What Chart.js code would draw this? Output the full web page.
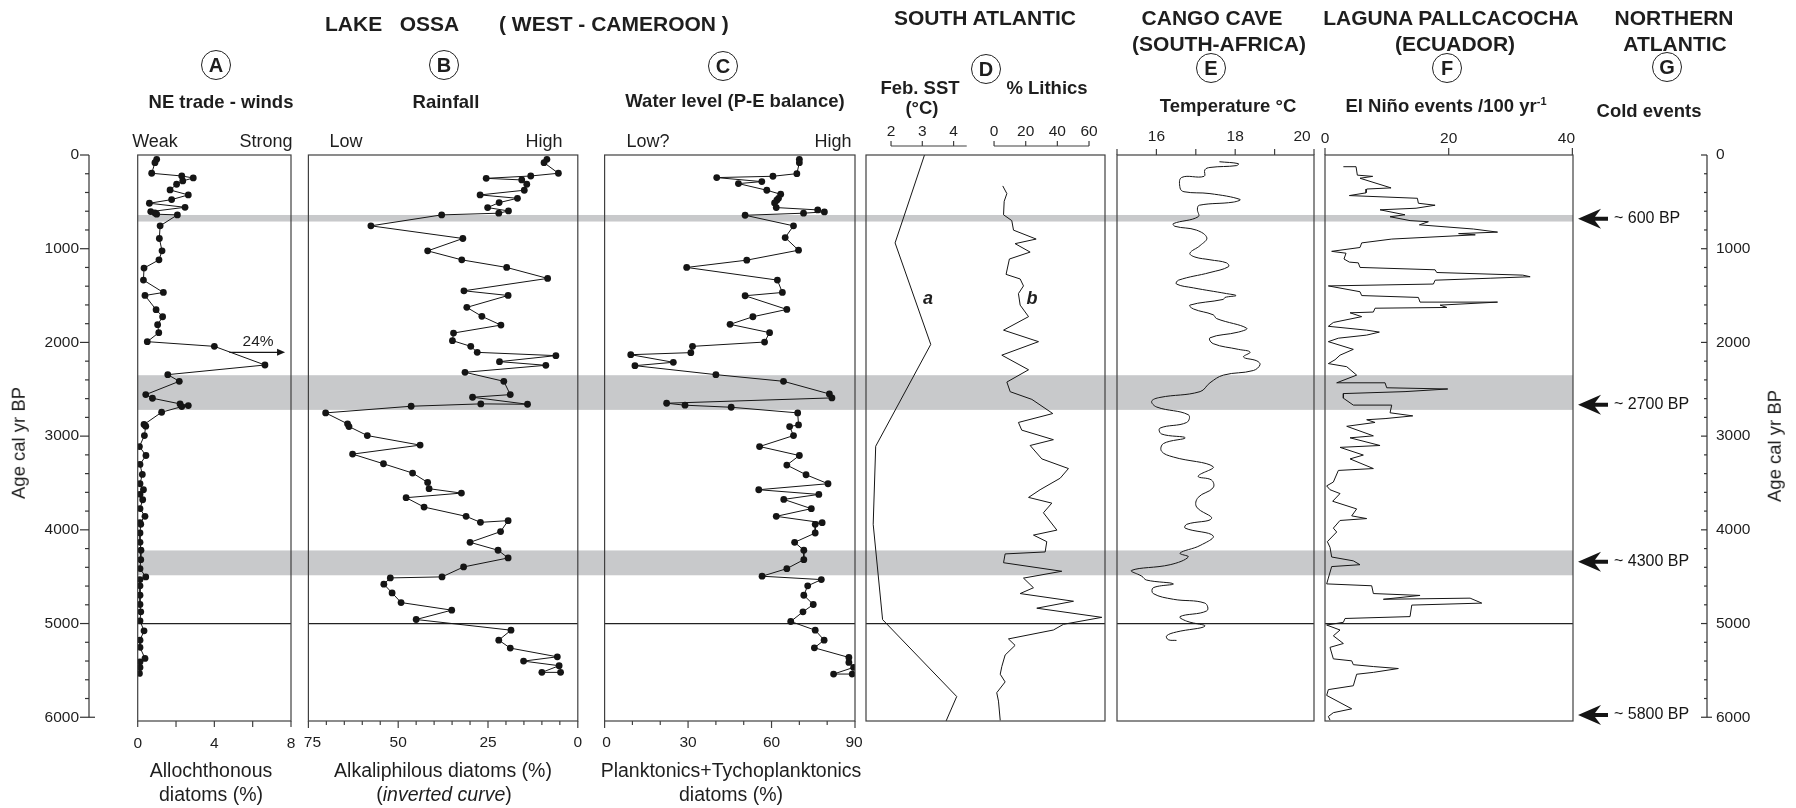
<!DOCTYPE html>
<html>
<head>
<meta charset="utf-8">
<title>Lake Ossa multi-proxy</title>
<script src="https://cdn.jsdelivr.net/npm/chart.js@4.4.1/dist/chart.umd.min.js"></script>
<style>
  body { margin: 0; background: #fff; }
  #wrap { position: relative; width: 1796px; height: 808px; overflow: hidden;
          font-family: "Liberation Sans", Arial, Helvetica, sans-serif; color: #1e1e1e; }
  #wrap canvas { position: absolute; left: 0; top: 0; }
  .t { position: absolute; white-space: pre; line-height: 1; transform: translate(-50%, -50%); }
  .l { transform: translate(0, -50%); }
  .h { font-weight: bold; font-size: 21px; }
  .s { font-weight: bold; font-size: 18.5px; }
  .k { font-size: 18px; }
  .x { font-size: 19.5px; }
  .v { font-size: 18.5px; transform: translate(-50%, -50%) rotate(-90deg); }
  .c { position: absolute; width: 28px; height: 28px; border: 1.3px solid #222; border-radius: 50%;
       transform: translate(-50%, -50%); font-weight: bold; font-size: 20px; line-height: 28px; text-align: center; }
  sup { font-size: 11px; vertical-align: 7px; line-height: 0; }
</style>
</head>
<body>
<div id="wrap">
  <canvas id="cAge" width="1796" height="808"></canvas>
  <canvas id="cA" width="1796" height="808"></canvas>
  <canvas id="cB" width="1796" height="808"></canvas>
  <canvas id="cC" width="1796" height="808"></canvas>
  <canvas id="cD" width="1796" height="808"></canvas>
  <canvas id="cE" width="1796" height="808"></canvas>
  <canvas id="cF" width="1796" height="808"></canvas>

  <div class="t l h" style="left:325px;top:23px">LAKE   OSSA</div>
  <div class="t l h" style="left:499px;top:23px">( WEST - CAMEROON )</div>
  <div class="t h" style="left:985px;top:17px">SOUTH ATLANTIC</div>
  <div class="t h" style="left:1212px;top:17px">CANGO CAVE</div>
  <div class="t h" style="left:1219px;top:43px">(SOUTH-AFRICA)</div>
  <div class="t h" style="left:1451px;top:17px">LAGUNA PALLCACOCHA</div>
  <div class="t h" style="left:1455px;top:43px">(ECUADOR)</div>
  <div class="t h" style="left:1674px;top:17px">NORTHERN</div>
  <div class="t h" style="left:1675px;top:43px">ATLANTIC</div>

  <div class="c" style="left:216px;top:65px">A</div>
  <div class="c" style="left:444px;top:65px">B</div>
  <div class="c" style="left:723px;top:66px">C</div>
  <div class="c" style="left:986px;top:69px">D</div>
  <div class="c" style="left:1211px;top:68px">E</div>
  <div class="c" style="left:1447px;top:68px">F</div>
  <div class="c" style="left:1667px;top:67px">G</div>

  <div class="t s" style="left:221px;top:102px">NE trade - winds</div>
  <div class="t s" style="left:446px;top:102px">Rainfall</div>
  <div class="t s" style="left:735px;top:101px">Water level (P-E balance)</div>
  <div class="t s" style="left:920px;top:88px">Feb. SST</div>
  <div class="t s" style="left:922px;top:108px">(°C)</div>
  <div class="t s" style="left:1047px;top:88px">% Lithics</div>
  <div class="t s" style="left:1228px;top:106px">Temperature °C</div>
  <div class="t s" style="left:1446px;top:106px">El Niño events /100 yr<sup>-1</sup></div>
  <div class="t s" style="left:1649px;top:111px">Cold events</div>

  <div class="t k" style="left:155px;top:141px">Weak</div>
  <div class="t k" style="left:266px;top:141px">Strong</div>
  <div class="t k" style="left:346px;top:141px">Low</div>
  <div class="t k" style="left:544px;top:141px">High</div>
  <div class="t k" style="left:648px;top:141px">Low?</div>
  <div class="t k" style="left:833px;top:141px">High</div>

  <div class="t x" style="left:211px;top:771px">Allochthonous</div>
  <div class="t x" style="left:211px;top:795px">diatoms (%)</div>
  <div class="t x" style="left:443px;top:771px">Alkaliphilous diatoms (%)</div>
  <div class="t x" style="left:444px;top:795px">(<i>inverted curve</i>)</div>
  <div class="t x" style="left:731px;top:771px">Planktonics+Tychoplanktonics</div>
  <div class="t x" style="left:731px;top:795px">diatoms (%)</div>
  <div class="t v" style="left:19px;top:443px">Age cal yr BP</div>
  <div class="t v" style="left:1775px;top:446px">Age cal yr BP</div>
</div>

<script>
const W = 1796, H = 808;
const FONT = '"Liberation Sans", Arial, Helvetica, sans-serif';
const INK = '#1e1e1e';
const FRAME = '#404040';
const BAND = '#c8c9cb';

// ---- age axis (cal yr BP) ----
const ageMax = 6040;
const ageTicks = [0, 200, 400, 600, 800, 1000, 1200, 1400, 1600, 1800, 2000, 2200, 2400, 2600, 2800, 3000,
  3200, 3400, 3600, 3800, 4000, 4200, 4400, 4600, 4800, 5000, 5200, 5400, 5600, 5800, 6000];
const ageLabelValues = [0, 1000, 2000, 3000, 4000, 5000, 6000];
const ageLabels = ['0', '1000', '2000', '3000', '4000', '5000', '6000'];
const bandAges = [[640, 710], [2350, 2720], [4220, 4485]];
const boundaryAge = 5000;
const coldEventAges = [680, 2665, 4340, 5975];
const coldEventLabels = ['~ 600 BP', '~ 2700 BP', '~ 4300 BP', '~ 5800 BP'];

// ---- A: allochthonous diatoms (%) ----
const ageA = [46, 82, 195, 224, 245, 277, 312, 373, 426, 476, 515, 558, 604, 618, 632, 639, 756, 891, 1023, 1119,
  1207, 1335, 1467, 1499, 1651, 1726, 1811, 1896, 1992, 2042, 2241, 2344, 2415, 2557, 2596, 2656, 2674, 2685, 2745, 2876,
  2894, 2994, 3111, 3207, 3302, 3409, 3508, 3572, 3622, 3679, 3774, 3856, 3924, 3941, 4034, 4133, 4218, 4318, 4414, 4502,
  4531, 4598, 4698, 4797, 4875, 4971, 5078, 5177, 5255, 5372, 5408, 5468, 5532];
const valA = [0.99, 0.90, 0.73, 2.30, 2.90, 2.35, 2.03, 1.69, 2.64, 1.77, 0.61, 2.47, 0.68, 0.90, 0.99, 2.07, 1.17, 1.13, 1.27, 1.11,
  0.33, 0.30, 1.34, 0.38, 0.96, 1.30, 1.04, 1.10, 0.50, 4.00, 6.64, 1.57, 2.17, 0.42, 0.77, 2.21, 2.64, 2.30, 1.25, 0.33,
  0.42, 0.35, 0.09, 0.43, 0.12, 0.24, 0.12, 0.30, 0.12, 0.26, 0.12, 0.38, 0.12, 0.16, 0.12, 0.12, 0.17, 0.16, 0.12, 0.42,
  0.12, 0.12, 0.12, 0.12, 0.16, 0.12, 0.33, 0.12, 0.12, 0.38, 0.12, 0.12, 0.09];
const ticksA = [0, 2, 4, 6, 8];
const labelValuesA = [0, 4, 8];
const labelsA = ['0', '4', '8'];
const note24 = { text: '24%', textAt: 6.28, textAge: 1992, arrowFrom: 4.78, arrowTo: 7.69, arrowAge: 2106 };

// ---- B: alkaliphilous diatoms (%), inverted ----
const ageB = [46, 82, 195, 224, 249, 266, 312, 376, 426, 462, 508, 561, 597, 621, 639, 756, 891, 1023, 1119, 1200,
  1317, 1449, 1499, 1626, 1722, 1815, 1900, 1981, 2042, 2106, 2141, 2205, 2244, 2319, 2415, 2557, 2585, 2660, 2656, 2681,
  2752, 2869, 2898, 2994, 3096, 3192, 3295, 3394, 3494, 3561, 3608, 3657, 3757, 3856, 3920, 3902, 4019, 4133, 4218, 4300,
  4396, 4502, 4513, 4580, 4673, 4776, 4857, 4957, 5071, 5177, 5262, 5355, 5401, 5450, 5521, 5521];
const valB = [8.6, 9.4, 5.4, 13.1, 25.5, 15.6, 14.2, 14.9, 27.2, 16.8, 21.9, 25.1, 19.3, 22.0, 37.9, 57.6, 32.0, 41.8, 32.3, 19.8,
  8.4, 31.7, 19.4, 30.9, 26.7, 21.4, 34.6, 34.9, 29.8, 28.0, 6.1, 21.8, 8.9, 31.4, 20.6, 18.8, 29.3, 14.0, 27.0, 46.4,
  70.2, 64.1, 63.7, 58.6, 43.9, 62.7, 54.1, 46.0, 41.8, 41.4, 32.4, 47.8, 42.8, 31.1, 27.1, 19.4, 21.5, 30.0, 22.2, 19.4,
  31.8, 37.8, 52.2, 54.0, 51.7, 49.2, 35.1, 45.0, 18.6, 22.0, 18.8, 5.7, 15.1, 5.2, 10.0, 4.8];
const ticksB = [0, 5, 10, 15, 20, 25, 30, 35, 40, 45, 50, 55, 60, 65, 70, 75];
const majorB = [0, 25, 50, 75];
const labelValuesB = [75, 50, 25, 0];
const labelsB = ['75', '50', '25', '0'];

// ---- C: planktonics + tychoplanktonics (%) ----
const ageC = [46, 82, 199, 227, 241, 284, 305, 376, 419, 462, 483, 511, 561, 586, 607, 621, 643, 756, 881, 1016,
  1122, 1200, 1335, 1467, 1502, 1648, 1726, 1807, 1896, 1996, 2042, 2109, 2131, 2212, 2248, 2344, 2415, 2550, 2592, 2649,
  2670, 2692, 2752, 2880, 2898, 2994, 3111, 3207, 3309, 3412, 3508, 3572, 3622, 3675, 3774, 3856, 3924, 3941, 4034, 4133,
  4218, 4318, 4414, 4495, 4531, 4598, 4698, 4797, 4875, 4978, 5071, 5177, 5259, 5362, 5415, 5468, 5539, 5539];
const valC = [70.0, 70.0, 69.1, 60.5, 40.3, 56.5, 48.1, 58.3, 63.3, 62.5, 61.9, 61.1, 61.7, 76.6, 79.0, 71.5, 50.5, 67.9, 64.9, 69.7,
  51.1, 29.5, 62.1, 63.9, 50.5, 65.5, 53.3, 45.1, 59.3, 57.5, 31.6, 31.0, 9.4, 24.7, 10.9, 40.0, 64.3, 80.8, 81.7, 22.3,
  28.9, 45.5, 69.4, 69.7, 66.5, 67.9, 55.7, 70.0, 65.5, 72.4, 80.3, 55.4, 77.0, 64.4, 74.3, 61.7, 78.2, 75.7, 75.7, 68.3,
  71.6, 71.6, 65.5, 56.6, 77.9, 73.0, 71.6, 75.0, 71.3, 66.9, 75.7, 78.9, 75.4, 87.8, 87.8, 89.5, 82.3, 89.0];
const ticksC = [0, 10, 20, 30, 40, 50, 60, 70, 80, 90];
const majorC = [0, 30, 60, 90];
const labelValuesC = [0, 30, 60, 90];
const labelsC = ['0', '30', '60', '90'];

// ---- D: South Atlantic, (a) Feb. SST and (b) % lithics ----
const ageSST = [0, 938, 2021, 3108, 3941, 4958, 5779, 6040];
const valSST = [3.07, 2.13, 3.27, 1.51, 1.43, 1.73, 4.10, 3.76];
const ageLith = [330, 412, 494, 638, 700, 802, 897, 946, 1036, 1110, 1274, 1323, 1397, 1479, 1602, 1725, 1869, 1992, 2136, 2292,
  2423, 2526, 2608, 2759, 2854, 2936, 3038, 3100, 3243, 3346, 3449, 3572, 3654, 3715, 3818, 4003, 4056, 4126, 4236, 4257,
  4351, 4442, 4515, 4618, 4680, 4762, 4836, 4934, 5008, 5069, 5164, 5233, 5336, 5459, 5541, 5623, 5738, 5828, 6034];
const valLith = [5.5, 8.1, 6.4, 6.0, 11.2, 12.3, 26.6, 13.3, 22.8, 9.7, 7.6, 16.5, 18.6, 15.4, 16.5, 21.8, 6.0, 28.1, 4.9, 21.8,
  8.1, 10.2, 23.9, 37.1, 15.4, 17.5, 37.5, 22.8, 30.2, 47.0, 41.8, 29.1, 21.8, 36.5, 31.2, 39.7, 24.9, 33.3, 32.3, 7.0,
  6.0, 42.8, 18.6, 24.9, 16.5, 50.2, 27.0, 68.1, 43.9, 37.5, 9.1, 13.3, 7.0, 4.9, 3.9, 7.0, 1.7, 2.8, 3.9];
const ticksSST = [2, 3, 4];
const labelsSST = ['2', '3', '4'];
const ticksLith = [0, 20, 40, 60];
const labelsLith = ['0', '20', '40', '60'];
const curveNames = [{ text: 'a', scale: 'x', at: 3.18, age: 1541 }, { text: 'b', scale: 'x2', at: 24.0, age: 1541 }];

// ---- E: Cango Cave temperature (°C) ----
const ageE = [72, 92, 113, 133, 158, 228, 240, 351, 392, 412, 474, 503, 536, 577, 659, 732, 761, 802, 884, 966,
  1048, 1089, 1118, 1151, 1192, 1254, 1336, 1377, 1418, 1479, 1500, 1520, 1541, 1602, 1643, 1705, 1746, 1848, 1890, 1951,
  2013, 2074, 2103, 2156, 2197, 2238, 2300, 2349, 2431, 2525, 2587, 2628, 2690, 2772, 2854, 2915, 2977, 3018, 3079, 3161,
  3223, 3326, 3428, 3469, 3551, 3654, 3756, 3879, 3941, 3982, 4064, 4167, 4249, 4290, 4372, 4433, 4495, 4536, 4577, 4618,
  4680, 4741, 4782, 4864, 4926, 4975, 5028, 5090, 5131, 5172, 5180];
const valE = [17.60, 18.08, 18.04, 17.36, 17.23, 17.21, 16.64, 16.60, 16.70, 17.36, 18.12, 17.95, 17.09, 17.04, 17.06, 16.43, 16.47, 17.02, 17.28, 17.11,
  16.85, 16.98, 17.36, 17.78, 17.83, 17.36, 16.56, 16.51, 16.94, 17.78, 18.02, 17.74, 17.70, 16.85, 16.94, 17.44, 17.53, 18.29, 18.08, 17.36,
  17.44, 18.08, 18.38, 18.21, 18.55, 18.63, 18.46, 17.70, 17.36, 17.11, 16.09, 15.88, 16.01, 16.81, 16.77, 16.09, 16.13, 16.73, 16.18, 16.13,
  16.43, 17.44, 17.06, 17.40, 17.44, 17.06, 17.02, 17.40, 16.77, 16.73, 17.44, 17.11, 16.60, 16.81, 16.35, 15.37, 15.63, 15.75, 16.43, 15.92,
  15.92, 16.43, 17.23, 17.28, 16.60, 16.77, 17.23, 16.51, 16.26, 16.30, 16.51];
const ticksE = [15, 16, 17, 18, 19, 20];
const labelValuesE = [16, 18, 20];
const labelsE = ['16', '18', '20'];

// ---- F: Laguna Pallcacocha El Niño events /100 yr ----
const ageF = [125, 125, 215, 228, 248, 351, 363, 404, 433, 462, 515, 536, 568, 585, 638, 659, 700, 712, 745, 790,
  823, 839, 852, 897, 938, 987, 1028, 1048, 1110, 1143, 1151, 1200, 1225, 1254, 1282, 1299, 1315, 1336, 1377, 1397,
  1459, 1500, 1520, 1570, 1570, 1602, 1627, 1635, 1676, 1684, 1725, 1787, 1828, 1869, 1890, 1922, 1955, 1992, 2074, 2136,
  2185, 2226, 2259, 2349, 2431, 2431, 2484, 2497, 2525, 2546, 2595, 2669, 2669, 2751, 2784, 2813, 2825, 2854, 2895, 2997,
  3018, 3100, 3120, 3202, 3243, 3346, 3366, 3490, 3531, 3572, 3613, 3695, 3777, 3851, 3880, 3900, 3982, 4023, 4126, 4187,
  4290, 4331, 4372, 4392, 4515, 4577, 4597, 4680, 4700, 4741, 4729, 4782, 4803, 4926, 4946, 4987, 5016, 5069, 5131, 5213,
  5254, 5377, 5398, 5439, 5459, 5480, 5521, 5541, 5664, 5705, 5767, 5910, 5951, 5992, 6030];
const valF = [2.97, 5.02, 5.23, 7.71, 5.66, 10.68, 6.74, 6.63, 3.94, 14.94, 15.10, 17.80, 14.72, 8.90, 12.94, 10.52, 13.75, 16.72, 15.26, 24.0,
  27.9, 21.6, 24.3, 10.8, 5.93, 5.66, 1.08, 3.40, 3.07, 3.94, 5.39, 5.66, 17.80, 18.07, 31.98, 33.17, 26.70, 17.80, 17.53, 0.54,
  5.66, 5.93, 15.10, 15.37, 27.9, 18.61, 19.69, 8.09, 7.82, 4.05, 5.93, 1.35, 0.54, 6.74, 8.79, 6.74, 2.16, 0.54, 4.58, 2.43,
  1.62, 0.54, 3.51, 5.12, 1.89, 9.71, 9.98, 19.85, 12.94, 2.97, 2.97, 4.58, 10.79, 10.52, 14.19, 9.71, 6.74, 8.09, 3.51, 7.82,
  4.05, 8.90, 2.43, 6.20, 4.05, 7.82, 2.16, 1.35, 0.27, 0.81, 2.43, 1.24, 5.12, 4.32, 6.74, 2.43, 1.35, 1.89, 0.38, 0.81,
  1.08, 4.58, 5.66, 1.08, 0.54, 0.27, 7.55, 7.82, 15.37, 9.44, 23.46, 25.35, 14.03, 13.75, 3.24, 2.97, 0.27, 2.43, 1.35, 2.97,
  0.81, 1.35, 4.32, 4.58, 7.82, 11.86, 7.82, 5.12, 4.58, 0.54, 0.27, 4.32, 1.35, 0.54, 0.81];
const ticksF = [0, 20, 40];
const labelsF = ['0', '20', '40'];

// ---- layout (pixel boxes of the panels) ----
const plotTop = 155, plotBottom = 721;
const areas = {
  age: [89, 1707], A: [137.7, 291], B: [308.4, 577.8], C: [604.6, 855],
  D: [866, 1105], E: [1117, 1314], F: [1325, 1573]
};

function seg(ctx, x0, y0, x1, y1) {
  ctx.beginPath(); ctx.moveTo(x0, y0); ctx.lineTo(x1, y1); ctx.stroke();
}

function pts(ages, vals) {
  return ages.map((a, i) => ({ x: vals[i], y: a }));
}

function dotted(ages, vals) {
  return { data: pts(ages, vals), showLine: true, borderColor: '#151515', borderWidth: 1,
    pointRadius: 3.4, pointBackgroundColor: '#151515', pointBorderWidth: 0, pointHoverRadius: 0 };
}

function curve(ages, vals, extra) {
  return Object.assign({ data: pts(ages, vals), showLine: true, borderColor: '#151515', borderWidth: 1,
    pointRadius: 0, pointHoverRadius: 0 }, extra || {});
}

function makeChart(id, area, scales, datasets, plugins) {
  return new Chart(document.getElementById(id), {
    type: 'scatter',
    data: { datasets },
    options: {
      responsive: false, animation: false, devicePixelRatio: 1, events: [],
      layout: { padding: { left: area[0], right: W - area[1], top: plotTop, bottom: H - plotBottom } },
      scales: Object.assign({ y: { type: 'linear', display: false, reverse: true, min: 0, max: ageMax } }, scales),
      plugins: { legend: { display: false }, tooltip: { enabled: false } }
    },
    plugins: plugins
  });
}

// frame, 5000 yr line and tick axes of one panel
function panelPlugin(cfg) {
  return {
    id: 'panel',
    beforeDatasetsDraw(chart) {
      const { ctx, chartArea: a, scales: { y } } = chart;
      const yb = y.getPixelForValue(boundaryAge);
      ctx.save(); ctx.strokeStyle = '#222'; ctx.lineWidth = 1.2;
      seg(ctx, a.left, yb, a.right, yb);
      ctx.restore();
    },
    afterDraw(chart) {
      const { ctx, chartArea: a } = chart;
      ctx.save();
      ctx.strokeStyle = FRAME; ctx.lineWidth = 1.2;
      ctx.strokeRect(a.left, a.top, a.right - a.left, a.bottom - a.top);
      ctx.fillStyle = INK; ctx.textAlign = 'center'; ctx.textBaseline = 'middle';
      ctx.font = '15.5px ' + FONT;
      cfg.axes.forEach(ax => {
        const s = chart.scales[ax.scale];
        const base = ax.base !== undefined ? ax.base : (ax.dir > 0 ? a.bottom : a.top);
        if (ax.bar) seg(ctx, s.getPixelForValue(ax.bar[0]), base, s.getPixelForValue(ax.bar[1]), base);
        ax.ticks.forEach(v => {
          const x = s.getPixelForValue(v);
          const len = ax.major && !ax.major.includes(v) ? ax.minorLen : ax.len;
          seg(ctx, x, base, x, base + ax.dir * len);
        });
        ax.labelValues.forEach((v, i) => {
          ctx.fillText(ax.labels[i], s.getPixelForValue(v) + (ax.dx ? ax.dx[i] : 0), ax.labelY);
        });
      });
      if (cfg.after) cfg.after(chart);
      ctx.restore();
    }
  };
}

// background: grey bands, both age axes, cold-event arrows
const agePlugin = {
  id: 'ageAxes',
  beforeDraw(chart) {
    const { ctx, scales: { y } } = chart;
    ctx.save();
    ctx.fillStyle = BAND;
    bandAges.forEach(([from, to]) => {
      const y0 = y.getPixelForValue(from), y1 = y.getPixelForValue(to);
      ctx.fillRect(areas.A[0], y0, areas.F[1] - areas.A[0], y1 - y0);
    });
    ctx.restore();
  },
  afterDraw(chart) {
    const { ctx, chartArea: a, scales: { y } } = chart;
    ctx.save();
    ctx.strokeStyle = '#333'; ctx.lineWidth = 1.2;
    ctx.fillStyle = INK; ctx.textBaseline = 'middle'; ctx.font = '15.5px ' + FONT;
    const yTop = y.getPixelForValue(ageTicks[0]);
    const yEnd = y.getPixelForValue(ageTicks[ageTicks.length - 1]);
    // left axis
    seg(ctx, a.left, yTop, a.left, yEnd);
    ageTicks.forEach(v => {
      const yy = y.getPixelForValue(v);
      const major = ageLabelValues.includes(v);
      seg(ctx, a.left - (major ? 9 : 4), yy, a.left + (v === 6000 ? 6 : 0), yy);
    });
    ctx.textAlign = 'right';
    ageLabelValues.forEach((v, i) => ctx.fillText(ageLabels[i], a.left - 10, y.getPixelForValue(v)));
    // right axis
    seg(ctx, a.right, yTop, a.right, yEnd);
    ageTicks.forEach(v => {
      const yy = y.getPixelForValue(v);
      const major = ageLabelValues.includes(v);
      seg(ctx, a.right - (major ? 6 : 3), yy, a.right + (v === 6000 ? 5 : 0), yy);
    });
    ctx.textAlign = 'left';
    ageLabelValues.forEach((v, i) => ctx.fillText(ageLabels[i], a.right + 9, y.getPixelForValue(v)));
    // cold events
    ctx.fillStyle = '#151515'; ctx.font = '16px ' + FONT;
    coldEventAges.forEach((age, i) => {
      const yy = y.getPixelForValue(age);
      const tip = areas.F[1] + 5;
      ctx.beginPath();
      ctx.moveTo(tip, yy);
      ctx.lineTo(tip + 23, yy - 10);
      ctx.lineTo(tip + 17, yy - 2);
      ctx.lineTo(tip + 30, yy - 2);
      ctx.lineTo(tip + 30, yy + 2);
      ctx.lineTo(tip + 17, yy + 2);
      ctx.lineTo(tip + 23, yy + 10);
      ctx.closePath(); ctx.fill();
      ctx.fillText(coldEventLabels[i], tip + 36, yy);
    });
    ctx.restore();
  }
};

makeChart('cAge', areas.age, { x: { type: 'linear', display: false, min: 0, max: 1 } }, [], [agePlugin]);

makeChart('cA', areas.A, { x: { type: 'linear', display: false, min: 0, max: 8 } }, [dotted(ageA, valA)], [panelPlugin({
  axes: [{ scale: 'x', dir: 1, len: 6, ticks: ticksA, labelValues: labelValuesA, labels: labelsA, labelY: 744 }],
  after(chart) {
    const { ctx, scales: { x, y } } = chart;
    ctx.font = '15.5px ' + FONT;
    ctx.fillText(note24.text, x.getPixelForValue(note24.textAt), y.getPixelForValue(note24.textAge));
    const ay = y.getPixelForValue(note24.arrowAge);
    const x0 = x.getPixelForValue(note24.arrowFrom), x1 = x.getPixelForValue(note24.arrowTo);
    ctx.strokeStyle = '#151515'; ctx.lineWidth = 1.3;
    seg(ctx, x0, ay, x1 - 5, ay);
    ctx.fillStyle = '#151515';
    ctx.beginPath(); ctx.moveTo(x1, ay); ctx.lineTo(x1 - 8, ay - 3.5); ctx.lineTo(x1 - 8, ay + 3.5); ctx.closePath(); ctx.fill();
  }
})]);

makeChart('cB', areas.B, { x: { type: 'linear', display: false, min: 0, max: 75, reverse: true } }, [dotted(ageB, valB)], [panelPlugin({
  axes: [{ scale: 'x', dir: 1, len: 7, minorLen: 4, major: majorB, ticks: ticksB,
    labelValues: labelValuesB, labels: labelsB, labelY: 743, dx: [4, 0, 0, 0] }]
})]);

makeChart('cC', areas.C, { x: { type: 'linear', display: false, min: 0, max: 90 } }, [dotted(ageC, valC)], [panelPlugin({
  axes: [{ scale: 'x', dir: 1, len: 7, minorLen: 4, major: majorC, ticks: ticksC,
    labelValues: labelValuesC, labels: labelsC, labelY: 743, dx: [2, 0, 0, -1] }]
})]);

makeChart('cD', areas.D, {
  x: { type: 'linear', display: false, min: 1.2, max: 8.84 },
  x2: { type: 'linear', axis: 'x', display: false, min: -80.9, max: 70.1 }
}, [curve(ageSST, valSST, { xAxisID: 'x' }), curve(ageLith, valLith, { xAxisID: 'x2' })], [panelPlugin({
  axes: [
    { scale: 'x', dir: -1, len: 5, base: 146, bar: [2, 4.42], ticks: ticksSST, labelValues: ticksSST, labels: labelsSST, labelY: 132 },
    { scale: 'x2', dir: -1, len: 5, base: 146, bar: [0, 60], ticks: ticksLith, labelValues: ticksLith, labels: labelsLith, labelY: 132 }
  ],
  after(chart) {
    const { ctx, scales } = chart;
    ctx.font = 'italic bold 18px ' + FONT;
    curveNames.forEach(n => ctx.fillText(n.text, scales[n.scale].getPixelForValue(n.at), scales.y.getPixelForValue(n.age)));
  }
})]);

makeChart('cE', areas.E, { x: { type: 'linear', display: false, min: 15, max: 20 } },
  [curve(ageE, valE, { tension: 0.4 })], [panelPlugin({
  axes: [{ scale: 'x', dir: -1, len: 6, ticks: ticksE, labelValues: labelValuesE, labels: labelsE, labelY: 137, dx: [0, 0, -12] }]
})]);

makeChart('cF', areas.F, { x: { type: 'linear', display: false, min: 0, max: 40.1 } },
  [curve(ageF, valF)], [panelPlugin({
  axes: [{ scale: 'x', dir: -1, len: 7, ticks: ticksF, labelValues: ticksF, labels: labelsF, labelY: 139, dx: [0, 0, -6] }]
})]);
</script>
</body>
</html>
